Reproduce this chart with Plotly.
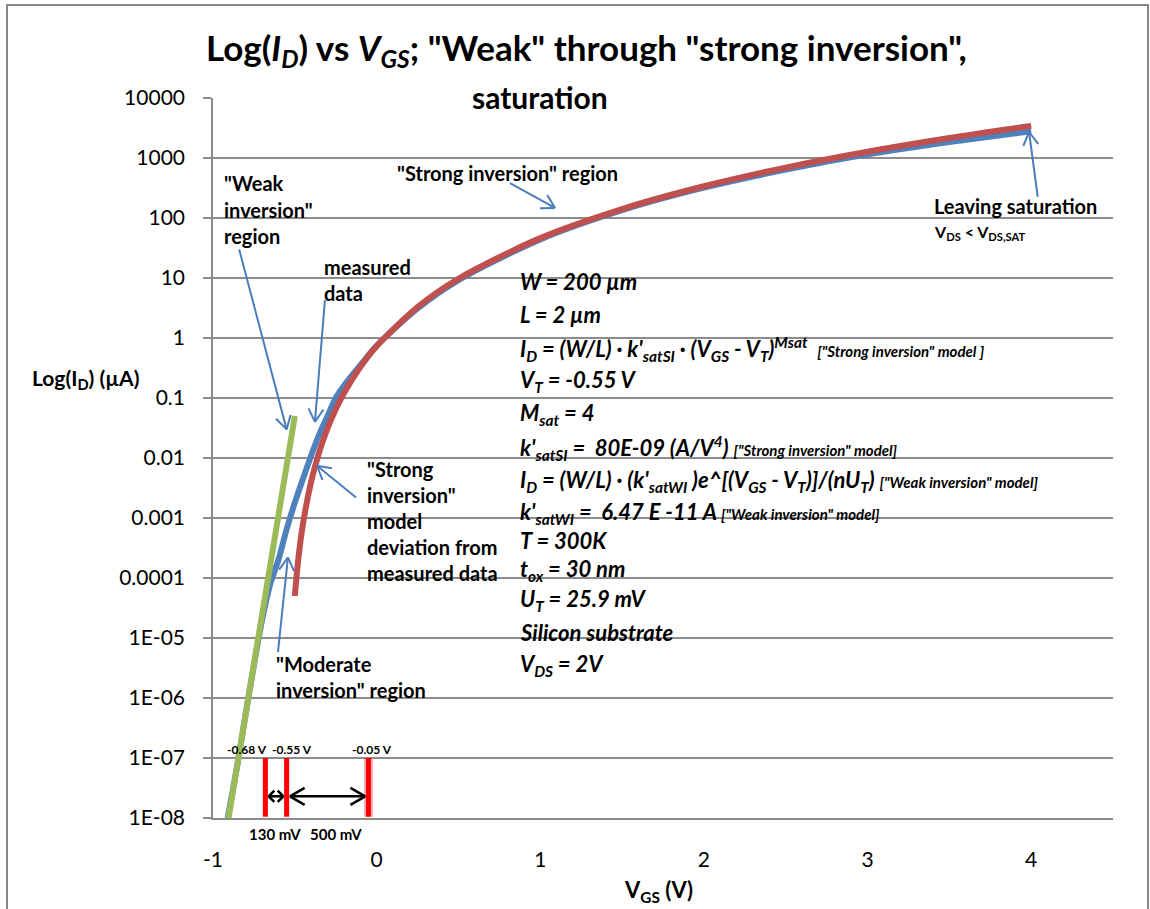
import math
import plotly.graph_objects as go

# ---- data: gate-source voltage (V) vs drain current (uA) ----
vgs_measured = [-0.91, -0.85, -0.80, -0.75, -0.70, -0.65, -0.60, -0.55, -0.50, -0.45,
                -0.40, -0.35, -0.30, -0.25, -0.20, -0.10, 0.0, 0.25, 0.5, 1.0,
                1.5, 2.0, 2.5, 3.0, 3.5, 4.0]
id_measured = [1.0e-8, 8.0e-8, 5.5e-7, 3.5e-6, 2.0e-5, 8.0e-5, 2.0e-4, 6.5e-4, 1.8e-3, 4.5e-3,
               1.1e-2, 0.025, 0.05, 0.10, 0.16, 0.35, 0.74, 3.1, 9.2, 44,
               135, 320, 640, 1150, 1850, 2800]

vgs_strong = [-0.50, -0.48, -0.45, -0.40, -0.35, -0.30, -0.25, -0.20, -0.10, 0.0,
              0.25, 0.5, 1.0, 1.5, 2.0, 2.5, 3.0, 3.5, 4.0]
id_strong = [5.0e-5, 1.92e-4, 8.0e-4, 4.05e-3, 1.28e-2, 3.13e-2, 6.48e-2, 0.120, 0.328, 0.732,
             3.28, 9.72, 46.2, 141, 338, 692, 1271, 2152, 3429]

vgs_weak = [-0.905, -0.50]
id_weak = [1.0e-8, 0.05]

# voltage markers at the bottom of the plot
marker_vgs = [-0.68, -0.55, -0.05]
marker_labels = ["-0.68 V", "-0.55 V", "-0.05 V"]
marker_id_range = [1.05e-8, 1.0e-7]
span_labels = ["130 mV", "500 mV"]

y_tickvals = [1e-8, 1e-7, 1e-6, 1e-5, 1e-4, 1e-3, 1e-2, 1e-1, 1, 10, 100, 1000, 10000]
y_ticktext = ["1E-08", "1E-07", "1E-06", "1E-05", "0.0001", "0.001", "0.01", "0.1",
              "1", "10", "100", "1000", "10000"]
x_tickvals = [-1, 0, 1, 2, 3, 4]
x_ticktext = ["-1", "0", "1", "2", "3", "4"]

# ---- layout geometry ----
W, H = 1150, 909
ML, MR, MT, MB = 213, 37, 98, 91
PW, PH = W - ML - MR, H - MT - MB
XR = [-1, 4.5]
YR = [-8, 4]

FONT = "Lato"
BLUE = "#4F81BD"
RED = "#C0504D"
GREEN = "#9BBB59"
ARROW_BLUE = "#4A7EBB"
GRID = "#8c8c8c"


def px_to_paper(px, py):
    return (px - ML) / PW, (MT + PH - py) / PH


def data_to_px(x, y):
    px = ML + (x - XR[0]) / (XR[1] - XR[0]) * PW
    py = MT + PH - (math.log10(y) - YR[0]) / (YR[1] - YR[0]) * PH
    return px, py


annotations = []
shapes = []


def label(text, px, py, size, xanchor="left", bold=True, italic=False):
    x, y = px_to_paper(px, py)
    if italic:
        text = "<i>" + text + "</i>"
    if bold:
        text = "<b>" + text + "</b>"
    annotations.append(dict(text=text, x=x, y=y, xref="paper", yref="paper",
                            xanchor=xanchor, yanchor="middle", showarrow=False,
                            font=dict(family=FONT, size=size, color="black")))


def seg(p0, p1, color, width):
    x0, y0 = px_to_paper(*p0)
    x1, y1 = px_to_paper(*p1)
    shapes.append(dict(type="line", xref="paper", yref="paper", x0=x0, y0=y0, x1=x1, y1=y1,
                       line=dict(color=color, width=width)))


def head(tip, frm, color, width, length, half_angle):
    dx, dy = frm[0] - tip[0], frm[1] - tip[1]
    d = math.hypot(dx, dy)
    ux, uy = dx / d, dy / d
    for s in (1, -1):
        a = math.radians(half_angle) * s
        rx = ux * math.cos(a) - uy * math.sin(a)
        ry = ux * math.sin(a) + uy * math.cos(a)
        seg(tip, (tip[0] + rx * length, tip[1] + ry * length), color, width)


def arrow(tail, tip, color=ARROW_BLUE, width=2, length=15, half_angle=30, both=False):
    p0 = data_to_px(*tail)
    p1 = data_to_px(*tip)
    seg(p0, p1, color, width)
    head(p1, p0, color, width, length, half_angle)
    if both:
        head(p0, p1, color, width, length, half_angle)


# ---- traces ----
fig = go.Figure()
fig.add_trace(go.Scatter(x=vgs_measured, y=id_measured, mode="lines", name="measured",
                         line=dict(color=BLUE, width=6, shape="spline", smoothing=0.8)))
fig.add_trace(go.Scatter(x=vgs_weak, y=id_weak, mode="lines", name="weak inversion model",
                         line=dict(color=GREEN, width=6)))
fig.add_trace(go.Scatter(x=vgs_strong, y=id_strong, mode="lines", name="strong inversion model",
                         line=dict(color=RED, width=6, shape="spline", smoothing=0.8)))

# red voltage markers
for i, v in enumerate(marker_vgs):
    if i == 2:
        fig.add_trace(go.Scatter(x=[v, v], y=marker_id_range, mode="lines", opacity=0.3,
                                 line=dict(color="#FF0000", width=9), hoverinfo="skip"))
    fig.add_trace(go.Scatter(x=[v, v], y=marker_id_range, mode="lines",
                             line=dict(color="#FF0000", width=5), hoverinfo="skip"))

# ---- annotation arrows (blue) ----
arrow((-0.84, 30), (-0.55, 0.03))          # weak inversion region
arrow((-0.316, 4.3), (-0.377, 0.04))       # measured data
arrow((-0.126, 0.0022), (-0.364, 0.0074))  # model deviation
arrow((-0.603, 5.8e-6), (-0.542, 2.2e-4))  # moderate inversion
arrow((0.815, 383), (1.09, 147))           # strong inversion region
arrow((4.04, 224), (3.987, 2712))          # leaving saturation

# ---- double arrows between the voltage markers ----
y_span = 2.3e-8
arrow((marker_vgs[0] + 0.02, y_span), (marker_vgs[1] - 0.02, y_span),
      color="black", width=2.5, length=8, half_angle=45, both=True)
arrow((marker_vgs[1] + 0.02, y_span), (marker_vgs[2] - 0.02, y_span),
      color="black", width=2.5, length=17, half_angle=30, both=True)

# ---- texts ----
label('Log(<i>I<sub>D</sub></i>) vs <i>V<sub>GS</sub></i>; "Weak" through "strong inversion",',
      586, 49, 35, xanchor="center")
label("saturation", 540, 97, 30, xanchor="center")

label("Log(I<sub>D</sub>) (µA)", 85, 379, 21, xanchor="center")
label("V<sub>GS</sub> (V)", 658, 891, 22, xanchor="center")

for t, y in zip(['"Weak', 'inversion"', 'region'], [183, 210, 236]):
    label(t, 222, y, 20)
for t, y in zip(["measured", "data"], [267, 293]):
    label(t, 322, y, 20)
label('"Strong inversion" region', 395, 173, 20)
label("Leaving saturation", 932, 206, 20)
label("V<sub>DS</sub> < V<sub>DS,SAT</sub>", 932, 232, 16)
for t, y in zip(['"Strong', 'inversion"', 'model', 'deviation from', 'measured data'],
                [469, 495, 521, 547, 573]):
    label(t, 365, y, 20)
for t, y in zip(['"Moderate', 'inversion" region'], [664, 690]):
    label(t, 274, y, 20)

for (t, v) in zip(marker_labels, [-0.792, -0.517, -0.03]):
    px, _ = data_to_px(v, 1)
    label(t, px, 749, 12, xanchor="center")
for t, v in zip(span_labels, [-0.621, -0.248]):
    px, _ = data_to_px(v, 1)
    label(t, px, 834, 15, xanchor="center")

SM = '<span style="font-size:15px">'
eq_lines = [
    ("W = 200 µm", 281),
    ("L = 2 µm", 314),
    ("I<sub>D</sub> = (W/L) · k'<sub>satSI</sub> · (V<sub>GS</sub> - V<sub>T</sub>)<sup>Msat</sup>  "
     + SM + '["Strong inversion" model ]</span>', 349),
    ("V<sub>T</sub> = -0.55 V", 381),
    ("M<sub>sat</sub> = 4", 414),
    ("k'<sub>satSI</sub> =  80E-09 (A/V<sup>4</sup>) " + SM + '["Strong inversion" model]</span>', 448),
    ("I<sub>D</sub> = (W/L) · (k'<sub>satWI</sub> )e^[(V<sub>GS</sub> - V<sub>T</sub>)]/(nU<sub>T</sub>) "
     + SM + '["Weak inversion" model]</span>', 481),
    ("k'<sub>satWI</sub> =  6.47 E -11 A " + SM + '["Weak inversion" model]</span>', 513),
    ("T = 300K", 540),
    ("t<sub>ox</sub> = 30 nm", 570),
    ("U<sub>T</sub> = 25.9 mV", 600),
    ("Silicon substrate", 632),
    ("V<sub>DS</sub> = 2V", 665),
]
for t, y in eq_lines:
    label(t, 518, y, 22, italic=True)

# chart-area frame
fx0, fy0 = px_to_paper(7, 915)
fx1, fy1 = px_to_paper(1148, 5)
shapes.append(dict(type="rect", xref="paper", yref="paper", x0=fx0, y0=fy0, x1=fx1, y1=fy1,
                   line=dict(color="#868686", width=2), layer="below"))

fig.update_layout(
    width=W, height=H,
    margin=dict(l=ML, r=MR, t=MT, b=MB),
    paper_bgcolor="white", plot_bgcolor="white",
    showlegend=False,
    font=dict(family=FONT, color="black"),
    annotations=annotations,
    shapes=shapes,
    xaxis=dict(range=XR, tickvals=x_tickvals, ticktext=x_ticktext, ticks="", showgrid=False,
               zeroline=False, showline=True, linecolor=GRID, linewidth=1.6,
               tickfont=dict(family=FONT, size=21, color="black"), ticklabelstandoff=22),
    yaxis=dict(type="log", range=YR, tickvals=y_tickvals, ticktext=y_ticktext,
               ticks="outside", ticklen=8, tickcolor=GRID, tickwidth=1.6,
               showgrid=True, gridcolor=GRID, gridwidth=1.6, zeroline=False,
               showline=True, linecolor=GRID, linewidth=1.6,
               tickfont=dict(family=FONT, size=21, color="black"), ticklabelstandoff=14),
)

fig.write_html("out.html")
